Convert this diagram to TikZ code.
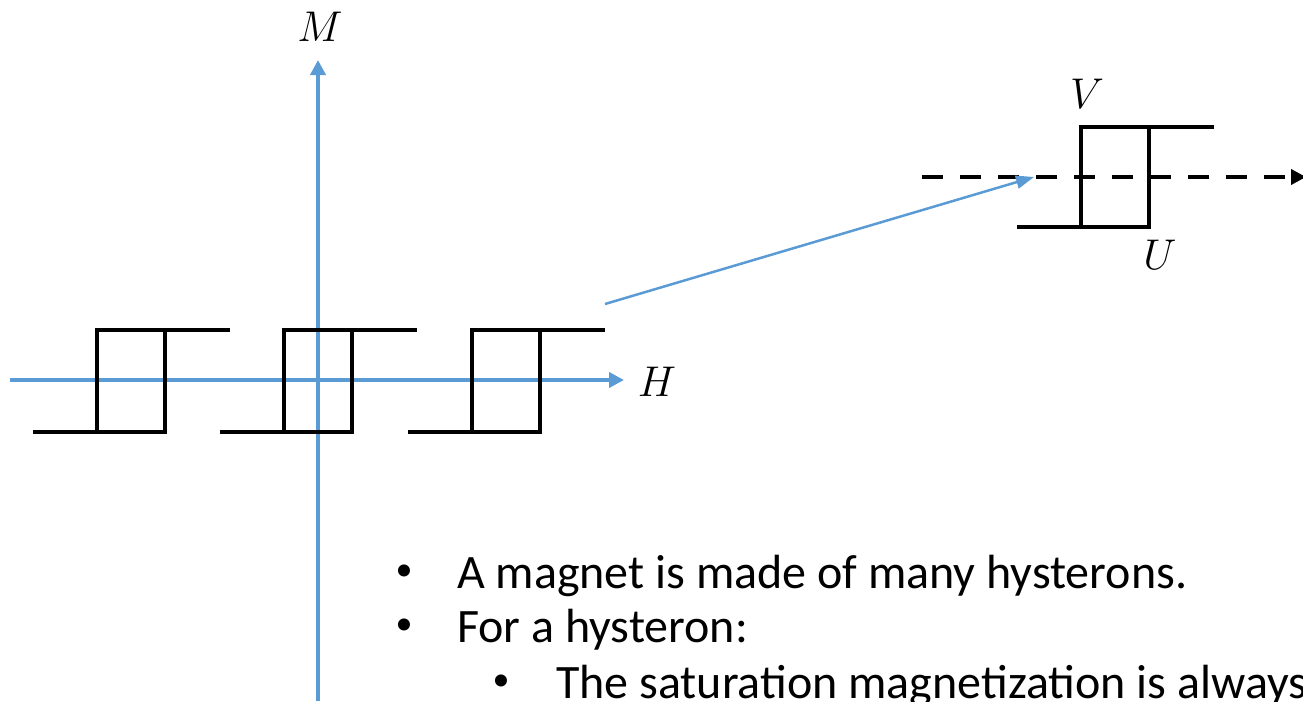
\RequirePackage{fix-cm}
\documentclass[tikz,border=0pt]{standalone}
\usepackage{fontspec}
\setmainfont{Carlito}
\usetikzlibrary{arrows.meta}
\definecolor{axisblue}{RGB}{91,155,213}
\tikzset{
  axisline/.style={draw=axisblue, line width=4pt, -{Triangle[length=15pt,width=15pt]}},
  hystline/.style={draw=black, line width=4pt, line join=miter},
  linkarrow/.style={draw=axisblue, line width=2.5pt, -{Triangle[length=18pt,width=13pt]}},
  fieldline/.style={draw=black, line width=4pt, dash pattern=on 21pt off 17pt, -{Triangle[length=15pt,width=15pt]}},
  mathlabel/.style={font=\fontsize{43}{43}\selectfont},
  bulletdot/.style={font=\fontsize{34}{34}\selectfont, inner sep=0pt},
  bulletext/.style={anchor=base west, font=\fontsize{48}{54}\selectfont, inner sep=0pt}
}
\begin{document}
\begin{tikzpicture}[x=1pt, y=-1pt]
  \useasboundingbox (0,0) rectangle (1303,701);
  % Axes M and H
  \coordinate (Mfoot) at (318,701);
  \coordinate (Mtip) at (318,60);
  \coordinate (Hfoot) at (10,380);
  \coordinate (Htip) at (624,380);
  \draw[axisline] (Mfoot) -- (Mtip);
  \draw[axisline] (Hfoot) -- (Htip);
  \node[mathlabel] (Mlab) at (320,27) {$M$};
  \node[mathlabel] (Hlab) at (657,382) {$H$};

  % Three hysterons along the H axis
  \foreach \hx [count=\k] in {97,284,472} {
    \coordinate (hyst\k) at (\hx,381);
    \draw[hystline] ([shift={(-64,51)}]hyst\k) -- ++(132,0) -- ++(0,-102);
    \draw[hystline] ([shift={(0,51)}]hyst\k) -- ++(0,-102) -- ++(133,0);
  }

  % Enlarged hysteron with its own field line
  \coordinate (big) at (1081,177);
  \coordinate (Fstart) at (922,177);
  \coordinate (Fend) at (1306,177);
  \draw[fieldline] (Fstart) -- (Fend);
  \draw[hystline] ([shift={(-64,50)}]big) -- ++(132,0) -- ++(0,-100);
  \draw[hystline] ([shift={(0,50)}]big) -- ++(0,-100) -- ++(133,0);
  \node[mathlabel] (Vlab) at (1087,94) {$V$};
  \node[mathlabel] (Ulab) at (1160,255) {$U$};

  % Link from the small hysteron to the big one
  \coordinate (linkfrom) at (605,304);
  \coordinate (linkto) at (1034,177);
  \draw[linkarrow] (linkfrom) -- (linkto);

  % Bullet text
  \node[bulletdot] (b1) at (404,573) {\textbullet};
  \node[bulletext] (t1) at (457,588) {A magnet is made of many hysterons.};
  \node[bulletdot] (b2) at (404,627) {\textbullet};
  \node[bulletext] (t2) at (457,642) {For a hysteron:};
  \node[bulletdot] (b3) at (501,683) {\textbullet};
  \node[bulletext] (t3) at (556,698) {The saturation magnetization is always};
\end{tikzpicture}
\end{document}
